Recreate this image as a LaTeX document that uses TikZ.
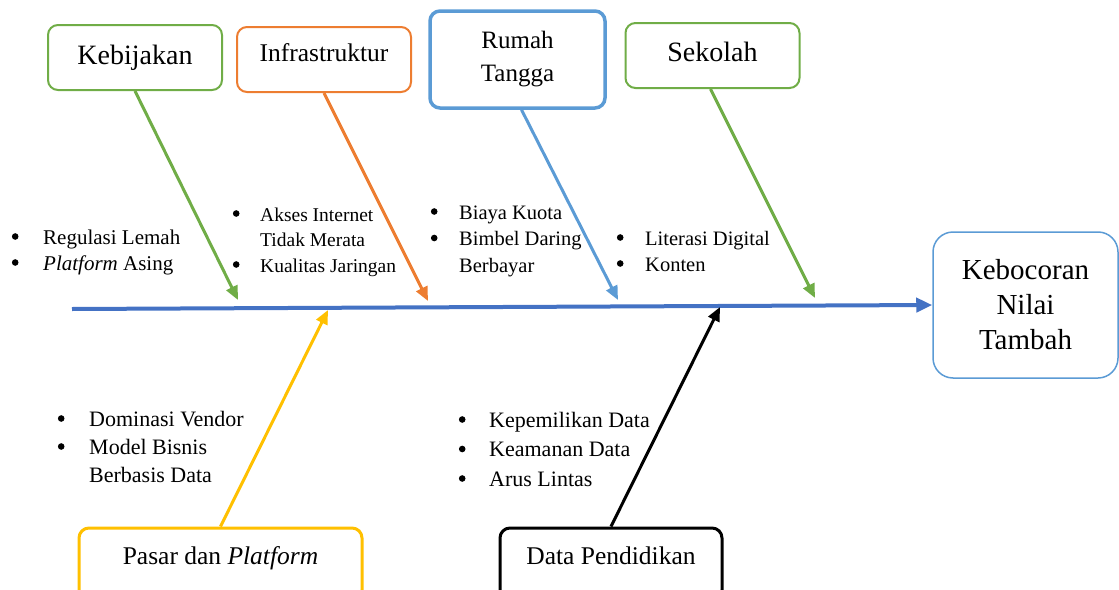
\documentclass[tikz,border=0pt]{standalone}
\usepackage{fontspec}
\setmainfont{Liberation Serif}
\usetikzlibrary{arrows.meta,positioning}

\definecolor{cGreen}{HTML}{70AD47}
\definecolor{cOrange}{HTML}{ED7D31}
\definecolor{cBlue}{HTML}{5B9BD5}
\definecolor{cSpine}{HTML}{4472C4}
\definecolor{cGold}{HTML}{FFC000}

\newcommand{\dotmark}{\tikz[baseline=-7.5pt]\fill (0,0) circle (3.3pt);}
\newcommand{\itemrows}[2][21.7pt]{\begin{tabular}[t]{@{}l@{\hspace{#1}}l@{}}#2\end{tabular}}

\tikzset{
  cause/.style={draw, rounded corners=10pt, line width=2pt, fill=white, align=center,
    minimum width=174pt, minimum height=65pt, inner sep=2pt},
  topbox/.style={cause, minimum height=0pt, inner ysep=0pt, anchor=base},
  bottombox/.style={topbox, line width=3pt, text height=36pt, text depth=36pt},
  bone/.style={line width=3pt, -{Triangle[length=14pt,width=12pt]}},
  spine/.style={line width=4pt, cSpine, -{Triangle[length=16pt,width=14pt]}},
  items/.style={anchor=base west, inner sep=0pt},
}

\begin{document}
\begin{tikzpicture}[x=1pt,y=-1pt]
\useasboundingbox (0,0) rectangle (1119,589);

% cause boxes
\node[topbox, draw=cGreen, text height=39pt, text depth=26pt,
  font=\fontsize{28}{32}\selectfont] (keb) at (135,64) {Kebijakan};
\node[topbox, draw=cOrange, text height=34pt, text depth=31pt,
  font=\fontsize{25.5}{30}\selectfont] (inf) at (324,61) {Infrastruktur};
\node[cause, draw=cBlue, line width=3.5pt, minimum width=175pt, minimum height=97pt,
  font=\fontsize{25}{33}\selectfont] (rum) at (517.5,59.5) {Rumah\\Tangga};
\node[topbox, draw=cGreen, text height=38pt, text depth=27pt,
  font=\fontsize{28}{32}\selectfont] (sek) at (712.5,61) {Sekolah};
\node[bottombox, draw=cGold, minimum width=283pt, font=\fontsize{25.5}{30}\selectfont] (pas)
  at (220.5,564) {Pasar dan \textit{Platform}};
\node[bottombox, draw=black, minimum width=222pt, font=\fontsize{25.5}{30}\selectfont] (dat)
  at (611,564) {Data Pendidikan};

% effect
\node[cause, draw=cBlue, line width=1.5pt, rounded corners=20pt, minimum width=185pt,
  minimum height=146pt, font=\fontsize{29}{35}\selectfont] (eff) at (1025.5,305)
  {Kebocoran\\Nilai\\Tambah};

% spine and bones
\coordinate (tail) at (72,309);
\draw[spine] (tail) -- (eff.west);

\coordinate (t1) at (238,300);
\coordinate (t2) at (428,301);
\coordinate (t3) at (618,300);
\coordinate (t4) at (815,298);
\coordinate (b1) at (328,310);
\coordinate (b2) at (720,307);

\draw[bone, cGreen] (keb.south) -- (t1);
\draw[bone, cOrange] (inf.south) -- (t2);
\draw[bone, cBlue] ([xshift=4pt]rum.south) -- (t3);
\draw[bone, cGreen] ([xshift=-2pt]sek.south) -- (t4);
\draw[bone, cGold] (pas.north) -- (b1);
\draw[bone, black] (dat.north) -- (b2);

% sub-causes
\node[items, font=\fontsize{21}{26}\selectfont] (l1) at (11.7,244)
  {\itemrows[24.7pt]{\dotmark & Regulasi Lemah\\ \dotmark & \textit{Platform} Asing}};
\node[items, font=\fontsize{19.5}{25.5}\selectfont] (l2) at (232.7,221)
  {\itemrows[20.7pt]{\dotmark & Akses Internet\\ & Tidak Merata\\ \dotmark & Kualitas Jaringan}};
\node[items, font=\fontsize{20.5}{26.5}\selectfont] (l3) at (430.7,219)
  {\itemrows{\dotmark & Biaya Kuota\\ \dotmark & Bimbel Daring\\ & Berbayar}};
\node[items, font=\fontsize{20.5}{26}\selectfont] (l4) at (616.7,245)
  {\itemrows{\dotmark & Literasi Digital\\ \dotmark & Konten}};
\node[items, font=\fontsize{22}{28}\selectfont] (l5) at (57.7,426)
  {\itemrows[24.7pt]{\dotmark & Dominasi Vendor\\ \dotmark & Model Bisnis\\ & Berbasis Data}};
\node[items, font=\fontsize{22}{29.5}\selectfont] (l6) at (458.7,427)
  {\itemrows[23.7pt]{\dotmark & Kepemilikan Data\\ \dotmark & Keamanan Data\\ \dotmark & Arus Lintas}};
\end{tikzpicture}
\end{document}
